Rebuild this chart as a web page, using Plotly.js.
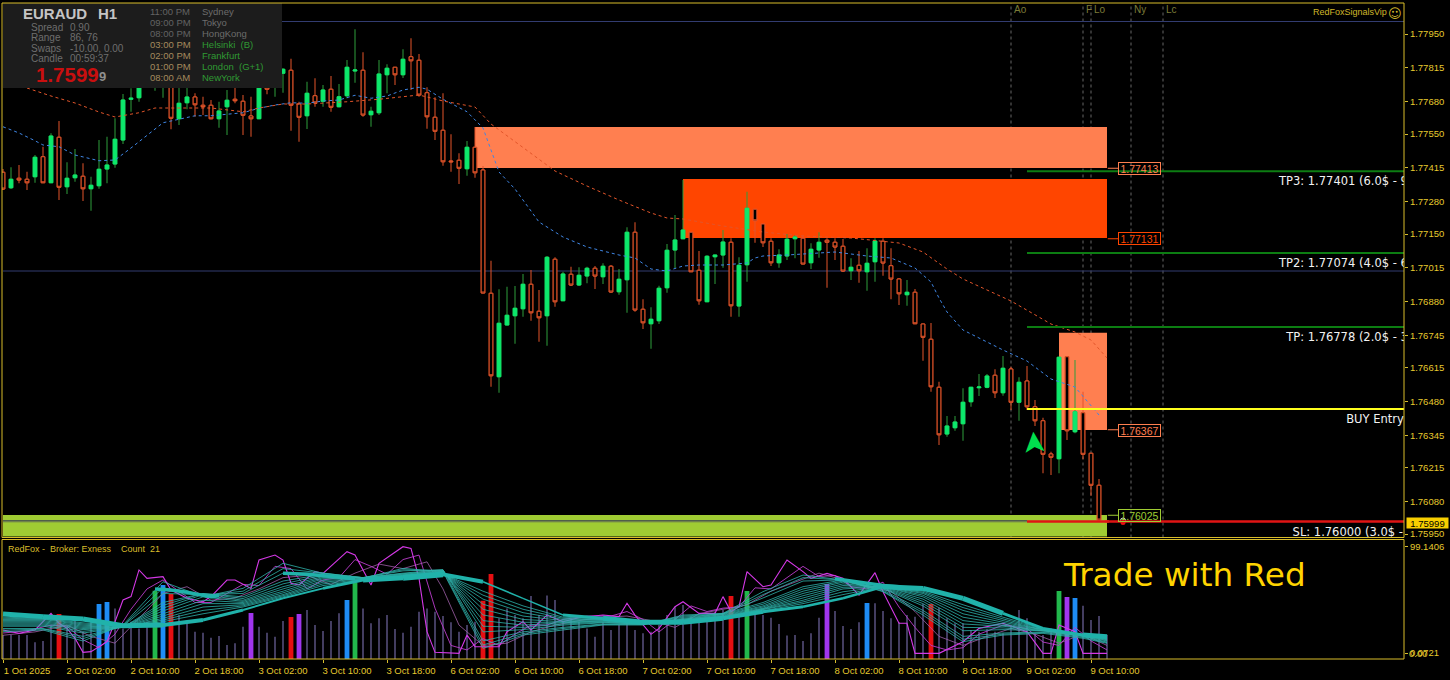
<!DOCTYPE html>
<html><head><meta charset="utf-8">
<script src="https://cdn.plot.ly/plotly-3.0.1.min.js"></script>
<style>html,body{margin:0;padding:0;background:#000}#c{width:1450px;height:680px}</style>
</head><body><div id="c"></div>
<script>
const candleOpen=[1.77397,1.77335,1.77373,1.77369,1.77379,1.77459,1.77355,1.77537,1.77339,1.77375,
1.77381,1.77331,1.77343,1.77410,1.77430,1.77526,1.77689,1.77695,1.77782,1.77750,
1.77750,1.77782,1.77611,1.77675,1.77698,1.77665,1.77665,1.77611,1.77659,1.77689,
1.77681,1.77622,1.77611,1.77750,1.77742,1.77793,1.77805,1.77670,1.77623,1.77703,
1.77681,1.77729,1.77659,1.77703,1.77802,1.77805,1.77627,1.77635,1.77787,1.77817,
1.77787,1.77859,1.77845,1.77715,1.77617,1.77565,1.77442,1.77445,1.77411,1.77497,
1.77406,1.76913,1.76579,1.76786,1.76823,1.76851,1.76949,1.76841,1.76823,1.77049,
1.76883,1.76989,1.76946,1.76982,1.77013,1.76979,1.77021,1.76919,1.76967,1.77157,
1.76849,1.76791,1.76803,1.76935,1.77086,1.77131,1.77157,1.77005,1.76879,1.77059,
1.77066,1.77117,1.76862,1.77027,1.77249,1.77190,1.77121,1.77035,1.77062,1.77131,
1.77133,1.77035,1.77086,1.77125,1.77117,1.77101,1.77003,1.77025,1.76999,1.77039,
1.77121,1.77023,1.76970,1.76907,1.76917,1.76790,1.76729,1.76537,1.76350,1.76375,
1.76391,1.76479,1.76535,1.76537,1.76585,1.76515,1.76610,1.76477,1.76562,1.76459,
1.76403,1.76270,1.76251,1.76659,1.76359,1.76435,1.76273,1.76145,1.76002];
const candleHigh=[1.77410,1.77417,1.77426,1.77399,1.77466,1.77499,1.77553,1.77602,1.77437,1.77490,
1.77433,1.77379,1.77526,1.77539,1.77613,1.77710,1.77733,1.77806,1.77814,1.77838,
1.77846,1.77814,1.77746,1.77734,1.77713,1.77699,1.77686,1.77679,1.77726,1.77734,
1.77706,1.77699,1.77806,1.77774,1.77822,1.77813,1.77851,1.77679,1.77759,1.77773,
1.77746,1.77782,1.77750,1.77846,1.77969,1.77877,1.77659,1.77846,1.77829,1.77817,
1.77889,1.77933,1.77870,1.77737,1.77697,1.77713,1.77549,1.77473,1.77522,1.77578,
1.77422,1.77043,1.76929,1.76939,1.76942,1.76990,1.77006,1.76926,1.77062,1.77057,
1.76999,1.77019,1.77017,1.77019,1.77022,1.77033,1.77026,1.77010,1.77177,1.77197,
1.76889,1.76857,1.76943,1.77110,1.77226,1.77366,1.77158,1.77082,1.77065,1.77066,
1.77166,1.77133,1.77057,1.77319,1.77250,1.77190,1.77133,1.77089,1.77150,1.77146,
1.77146,1.77113,1.77157,1.77133,1.77133,1.77130,1.77053,1.77082,1.77093,1.77133,
1.77133,1.77093,1.76973,1.76966,1.76930,1.76790,1.76794,1.76559,1.76422,1.76422,
1.76533,1.76537,1.76590,1.76590,1.76609,1.76662,1.76619,1.76577,1.76622,1.76486,
1.76415,1.76279,1.76659,1.76659,1.76646,1.76519,1.76274,1.76170,1.76002];
const candleLow=[1.77326,1.77330,1.77353,1.77326,1.77355,1.77355,1.77355,1.77286,1.77310,1.77359,
1.77282,1.77243,1.77331,1.77353,1.77415,1.77510,1.77639,1.77679,1.77738,1.77723,
1.77695,1.77569,1.77586,1.77649,1.77619,1.77626,1.77609,1.77575,1.77546,1.77673,
1.77546,1.77539,1.77610,1.77709,1.77699,1.77715,1.77563,1.77519,1.77570,1.77659,
1.77659,1.77639,1.77657,1.77693,1.77755,1.77619,1.77579,1.77626,1.77713,1.77746,
1.77774,1.77726,1.77699,1.77571,1.77526,1.77423,1.77399,1.77350,1.77383,1.77375,
1.76914,1.76539,1.76515,1.76786,1.76711,1.76819,1.76803,1.76719,1.76703,1.76859,
1.76883,1.76942,1.76942,1.76953,1.76930,1.76950,1.76915,1.76907,1.76835,1.76839,
1.76770,1.76691,1.76790,1.76915,1.77013,1.77131,1.76999,1.76867,1.76879,1.76950,
1.77015,1.76819,1.76819,1.76959,1.77115,1.77098,1.77022,1.77015,1.77046,1.77053,
1.77030,1.77010,1.77055,1.76935,1.77046,1.76998,1.76966,1.76955,1.76923,1.76959,
1.76983,1.76889,1.76866,1.76863,1.76790,1.76643,1.76519,1.76306,1.76339,1.76363,
1.76323,1.76459,1.76502,1.76533,1.76494,1.76503,1.76446,1.76403,1.76446,1.76382,
1.76193,1.76186,1.76193,1.76326,1.76353,1.76249,1.76103,1.76006,1.75999];
const candleClose=[1.77330,1.77369,1.77366,1.77355,1.77457,1.77355,1.77542,1.77337,1.77373,1.77386,
1.77331,1.77345,1.77409,1.77426,1.77529,1.77686,1.77693,1.77766,1.77742,1.77798,
1.77798,1.77613,1.77673,1.77698,1.77667,1.77659,1.77611,1.77642,1.77685,1.77683,
1.77625,1.77611,1.77774,1.77729,1.77782,1.77809,1.77665,1.77617,1.77713,1.77675,
1.77726,1.77657,1.77699,1.77817,1.77806,1.77626,1.77641,1.77790,1.77813,1.77787,
1.77849,1.77843,1.77706,1.77619,1.77561,1.77439,1.77439,1.77413,1.77497,1.77395,
1.76914,1.76583,1.76793,1.76825,1.76853,1.76949,1.76835,1.76815,1.77057,1.76879,
1.76990,1.76946,1.76985,1.77013,1.76982,1.77021,1.76918,1.76969,1.77157,1.76846,
1.76795,1.76809,1.76933,1.77085,1.77126,1.77166,1.76999,1.76883,1.77061,1.77066,
1.77118,1.76863,1.77025,1.77253,1.77203,1.77115,1.77035,1.77066,1.77129,1.77138,
1.77030,1.77089,1.77117,1.77117,1.77098,1.77002,1.77017,1.77003,1.77033,1.77122,
1.77034,1.76970,1.76911,1.76917,1.76791,1.76737,1.76539,1.76347,1.76382,1.76398,
1.76477,1.76537,1.76538,1.76582,1.76515,1.76613,1.76477,1.76557,1.76459,1.76403,
1.76269,1.76257,1.76657,1.76363,1.76439,1.76269,1.76145,1.76006,1.75999];

const emaBlueIdx=[0,2,4,5,7,9,12,14,16,18,20,22,24,26,28,30,32,34,36,38,40,42,44,46,48,50,52,53,55,58,60,62,64,66,67,70,73,77,79,81,83,85,87,90,93,94,95,98,102,104,108,111,114,116,117,118,120,125,128,131,134,137];
const emaBlue=[1.77579,1.77554,1.77523,1.77506,1.77499,1.77466,1.77443,1.77446,1.77494,1.77546,1.77595,1.77609,1.77623,1.77623,1.77630,1.77635,1.77653,1.77666,1.77675,1.77673,1.77682,1.77686,1.77705,1.77693,1.77702,1.77726,1.77737,1.77729,1.77689,1.77639,1.77574,1.77398,1.77330,1.77242,1.77198,1.77138,1.77098,1.77066,1.77054,1.77010,1.77002,1.77022,1.77026,1.77026,1.77034,1.77054,1.77062,1.77066,1.77074,1.77078,1.77062,1.77054,1.77014,1.76958,1.76894,1.76838,1.76766,1.76686,1.76642,1.76570,1.76538,1.76426];
const emaOrangeIdx=[3,6,9,12,14,17,19,23,26,30,32,35,38,43,47,52,55,59,61,69,73,77,81,83,85,90,95,100,106,112,115,118,120,126,131,134,136,138];
const emaOrange=[1.77734,1.77702,1.77674,1.77638,1.77618,1.77635,1.77654,1.77654,1.77654,1.77639,1.77654,1.77670,1.77670,1.77679,1.77689,1.77706,1.77682,1.77658,1.77590,1.77402,1.77342,1.77286,1.77234,1.77214,1.77210,1.77182,1.77158,1.77142,1.77134,1.77114,1.77078,1.77010,1.76970,1.76882,1.76790,1.76758,1.76726,1.76654];

const volume=[21.2,21.2,21.2,21.2,14.8,15.9,30.1,39.8,28.6,36,24.2,33,48.7,50.4,44.8,27.1,33,27.1,33,60.5,
65.5,57.5,38.9,31.6,24.2,23.3,18.9,20.4,12.4,13.9,28.6,40.7,28.6,23.3,19.8,33.6,37.2,39.8,43.4,30.1,
24.8,33.6,40.4,52.2,67.6,44.8,31.6,36,38.9,26.6,23.3,28.6,41.9,44.8,41.9,38.1,32.5,24.2,30.1,33,
51.6,75.2,36,44.8,38.9,36,55.8,38.9,56.1,52.2,33,36,33,27.1,19.8,32.5,25.7,30.1,31.6,25.7,
22.7,24.2,30.1,38.9,46.3,47.8,37.5,33,34.5,41.9,43.4,55.8,38.9,60.2,38.9,38.9,36.6,31,20.7,21.2,
15.9,22.7,36.6,66.4,42.5,29.2,26.6,32.5,49.6,49.3,42.5,36,32.5,38.9,37.5,48.7,48.7,45.4,36,31.6,
31.6,25.7,24.2,26.3,24.2,22.7,30.1,43.4,36,22.7,21.2,27.1,60.2,54.9,54,47.2,34.5,38.1,21.2];
const redBars=[7,21,36,60,61,91,116];
const blueBars=[12,13,20,43,108,134];
const greenBars=[19,44,93,132];
const purpleBars=[31,37,103,133];

const fanIdx=[0,5,10,15,20,25,30,35,40,45,50,55,60,65,70,75,80,85,90,95,100,105,110,115,120,125,130,135,138];
const fan1=[24.2,25.7,15.9,30.1,68.4,55.2,62.5,84.7,75.8,71.4,80.2,77.3,9.4,21.2,25.7,30.1,30.1,38.9,40.4,59.6,74.3,69.9,59.6,38.9,15.3,21.2,22.7,18.3,13.9];
const fan1b=[25.5,26.5,18,29.5,63,56,60,80,76,72,79,78,12.5,22.5,27,30.5,30.5,38,40,57,72,70,60,41,17.5,22,23.5,19,14.5];
const fan2=[27,27,20,29,58,57,58,76,76,72,78,79,16,24,28,31,31,37,40,54,69,70,61,43,20,23,24,20,15];
const fan3=[29,29,23,28,50,58,55,69,75,72,76,79,24,26,30,32,31,36,40,50,64,70,62,47,25,26,25,20,16];
const fan3b=[30,30,24.5,28,47.5,58,53.5,66.5,74,72,75.5,78.5,29,28,31,32.5,31,35.5,39.5,48.5,62,69,62.5,49,28,27.5,25,20.5,16.5];
const fan4=[31,31,26,28,45,57,52,64,73,72,75,78,34,30,32,33,31,35,39,47,60,68,63,51,31,29,25,21,17];
const fan4b=[32,32,27,28,42.5,55,51,62,72,71.5,74.5,77.5,39,32.5,32.5,33.5,31.5,34.5,38.5,46,58,66.5,63.5,53,34,30,25.5,21,17.5];
const fan5=[33,33,28,28,40,52,50,60,71,71,74,77,44,35,33,34,32,34,38,45,56,65,64,55,37,31,26,21,18];
const fan5b=[34,34,29,28,38,49,49,58.5,69.5,71,73.5,76.5,48.5,38,34,34.5,32,34,37.5,44.5,54,63.5,64,56.5,40,32.5,26,21,18.5];
const fan6=[35,35,30,28,36,46,48,57,68,71,73,76,53,41,35,35,32,34,37,44,52,62,64,58,43,34,26,21,19];
const fan6b=[36,35.5,31,28.5,34.5,43,47,56,66.5,70.5,72.5,75.8,56.5,44,36,35,32,33.5,36.8,43.5,50.5,59.5,64,59,45.5,35.5,26.5,21,19.2];
const fan7=[37,36,32,29,33,40,46,55,65,70,72.5,75.5,60,47,37,35.5,32,33,36.5,43,49,57,64,60,48,37,27,21,19.5];
const fanSlow=[39.8,37.5,35.4,29.5,30.1,34.5,43.4,53.7,62.5,69.9,72,74.9,68.4,53.7,38.9,36,32.5,32.5,36,41.9,46.3,53.7,64,62.5,53.7,40.4,27.1,21.2,19.8];
const fanSlowWidth=[5,5,5,5,4,3,2,2,3,5,6,4,1.5,1.5,3,5,5,5,4,3,2.5,2.5,5,5,5,3,3,5];
const bandAIdx=[19,21,23,26,27], bandA=[62,61,59,55,56];
const bandBIdx=[35,38,41,44], bandB=[76,75,73,71];
const bandCIdx=[104,107,110,112], bandC=[71,68,65,64];

const mag1Idx=[0,2,4,6,7,8,9,10,11,13,14,15,16,17,18,20,21,23,25,26,28,29,31,32,34,35,36,37,39,40,43,44,46,47,50,51,52,53,54,57,58,59,62,63,65,66,68,70,72,75,77,78,79,81,82,84,85,87,89,90,91,92,93,95,96,98,100,101,103,105,107,109,110,112,113,114,117,120,122,125,128,130,131,132,134,135,138];
const mag1=[25.7,22.7,25.7,40.4,31.6,27.1,18.3,5.9,6.5,15.3,33,52.2,55.2,78.8,71.4,72.9,61.1,53.7,50.7,55.2,69.9,69.9,62.5,87.6,92,87.6,67,65.5,77.3,75.8,95,92,65.5,84.7,99.4,97.9,71.4,24.2,5.9,5,21.2,10.9,10.9,24.2,33,25.7,38.9,33,36.6,38.9,37.5,49.3,38.9,21.8,27.1,46.3,50.7,40.4,40.4,55.2,41.9,46.3,77.3,64,65.5,87.6,77.3,71.4,75.8,71.4,56.6,76.4,59.6,31.6,31.6,5,5,15.3,27.1,31.6,24.2,5,5,30.1,24.2,5,5];
const mag2Idx=[0,3,6,8,10,12,14,16,18,20,22,24,26,28,30,32,34,36,38,40,42,44,46,48,50,52,54,56,58,60,62,64,66,68,70,73,76,78,80,82,84,86,88,90,92,94,96,98,100,102,104,106,108,110,112,114,116,118,120,122,125,128,130,132,134,136,138];
const mag2=[23,25,30,29,17,10,22,44,62,70,60,50,50,58,66,65,82,80,62,70,72,88,82,75,88,92,45,12,8,18,12,22,30,30,35,38,38,42,35,24,35,47,42,45,46,63,62,72,82,73,74,64,62,68,46,28,12,8,10,22,30,27,15,12,28,16,8];
const mag3Idx=[0,4,8,11,14,17,20,23,26,29,32,35,38,41,44,47,50,53,55,57,60,63,66,69,72,75,78,81,84,87,90,93,96,99,102,105,108,111,114,117,120,123,126,129,132,135,138];
const mag3=[21,24,30,20,14,36,58,64,52,54,62,72,74,66,76,84,80,86,62,30,12,14,24,30,34,37,38,34,28,40,44,48,60,68,76,70,64,60,42,20,12,20,27,22,14,22,12];

const xTickIdx=[0,8,16,24,32,40,48,56,64,72,80,88,96,104,112,120,128,136];
const xTickLabels=['1 Oct 2025','2 Oct 02:00','2 Oct 10:00','2 Oct 18:00','3 Oct 02:00','3 Oct 10:00','3 Oct 18:00','6 Oct 02:00','6 Oct 10:00','6 Oct 18:00','7 Oct 02:00','7 Oct 10:00','7 Oct 18:00','8 Oct 02:00','8 Oct 10:00','8 Oct 18:00','9 Oct 02:00','9 Oct 10:00'];
const yTicks=[1.7795,1.77815,1.7768,1.7755,1.77415,1.7728,1.7715,1.77015,1.7688,1.76745,1.76615,1.7648,1.76345,1.76215,1.7608,1.7595];
const yTickLabels=['1.77950','1.77815','1.77680','1.77550','1.77415','1.77280','1.77150','1.77015','1.76880','1.76745','1.76615','1.76480','1.76345','1.76215','1.76080','1.75950'];

const sessionIdx=[126,135,136,141,145];
const sessionNames=['Ao','F','Lo','Ny','Lc'];
const tpPrices=[1.77401,1.77074,1.76778];
const tpLabels=['TP3: 1.77401 (6.0$ - 9','TP2: 1.77074 (4.0$ - 6','TP: 1.76778 (2.0$ - 3'];
const buyPrice=1.7645, slPrice=1.76;
const zoneCoral=[59,138,1.77414,1.77578], zoneRed=[85,138,1.77134,1.7737], zoneCoral2=[132,138,1.76366,1.76755], zoneGreen=[0,138,1.7594,1.76026];
const navyLevels=[1.78,1.77002];
const buySignal=[128.7,1.76314];

const GOLD='#e6c92e',FRAME='#d9bd2b',ORANGE='#e4552a',GREEN='#0ce86c',GREENW='#2f9f3c';
const X0=2,X1=1404,Y1=659,H=656;
const px=x=>(x-X0)/(X1-X0), py=y=>(Y1-y)/H;
const all=candleOpen.map((_,i)=>i);
const bodyHi=candleOpen.map((o,i)=>Math.max(o,candleClose[i]));
const bodyLo=candleOpen.map((o,i)=>Math.min(o,candleClose[i]));

const traces=[];
traces.push({type:'candlestick',x:all,open:candleOpen,high:candleHigh,low:candleLow,close:candleClose,xaxis:'x',yaxis:'y',hoverinfo:'skip',
  increasing:{line:{color:GREENW,width:1},fillcolor:GREEN},decreasing:{line:{color:ORANGE,width:1},fillcolor:'#000'}});
traces.push({type:'candlestick',x:all,open:candleOpen,high:bodyHi,low:bodyLo,close:candleClose,xaxis:'x',yaxis:'y',hoverinfo:'skip',
  increasing:{line:{color:GREEN,width:1},fillcolor:GREEN},decreasing:{line:{color:ORANGE,width:1},fillcolor:'#000'}});
traces.push({type:'scatter',mode:'lines',x:emaBlueIdx,y:emaBlue,line:{color:'#3f86e4',width:1,dash:'3px,3px'},xaxis:'x',yaxis:'y',hoverinfo:'skip'});
traces.push({type:'scatter',mode:'lines',x:emaOrangeIdx,y:emaOrange,line:{color:'#e2552a',width:1,dash:'3px,3px'},xaxis:'x',yaxis:'y',hoverinfo:'skip'});
// clipped chart labels
traces.push({type:'scatter',mode:'text',x:[159.5,159.5,160.4,167.9,161.2],y:[tpPrices[0]-0.00044,tpPrices[1]-0.00044,tpPrices[2]-0.00044,buyPrice-0.00044,slPrice-0.00048],
  text:[...tpLabels,'BUY Entry','SL: 1.76000 (3.0$ -'],textposition:'middle right',textfont:{family:'DejaVu Sans',size:11.5,color:'#f2f2f2'},xaxis:'x',yaxis:'y',cliponaxis:true,hoverinfo:'skip'});
traces.push({type:'scatter',mode:'markers',x:[140],y:[1.76004],marker:{symbol:'circle-open',size:5,color:'#dddddd',line:{width:1}},xaxis:'x',yaxis:'y',hoverinfo:'skip'});
traces.push({type:'scatter',mode:'markers',x:[140],y:[1.75996],marker:{symbol:'circle',size:5,color:'#e81010'},xaxis:'x',yaxis:'y',hoverinfo:'skip'});

// volume histogram
const special=[...redBars,...blueBars,...greenBars,...purpleBars];
const thin=all.filter(i=>!special.includes(i));
traces.push({type:'bar',x:thin,y:thin.map(i=>volume[i]),width:0.16,marker:{color:'#6a6098',line:{width:0}},xaxis:'x',yaxis:'y2',hoverinfo:'skip'});
[[redBars,'#e60f12'],[blueBars,'#1e8cf5'],[greenBars,'#22b84c'],[purpleBars,'#a035ee']].forEach(([ids,c])=>{
  traces.push({type:'bar',x:ids,y:ids.map(i=>volume[i]),width:0.6,marker:{color:c,line:{width:0}},xaxis:'x',yaxis:'y2',hoverinfo:'skip'});
});
const lineS=(x,y,c,w)=>traces.push({type:'scatter',mode:'lines',x,y,line:{color:c,width:w},xaxis:'x',yaxis:'y2',hoverinfo:'skip'});
lineS(mag3Idx,mag3,'#a060a8',0.8);
lineS(mag2Idx,mag2,'#bb3ccc',0.9);
lineS(mag1Idx,mag1,'#d438e6',1.1);
[fan1,fan1b,fan2,fan3,fan3b,fan4,fan4b,fan5,fan5b,fan6,fan6b,fan7].forEach(f=>lineS(fanIdx,f,'#2fb3ab',0.8));
fanSlowWidth.forEach((w,k)=>lineS(fanIdx.slice(k,k+2),fanSlow.slice(k,k+2),'#20b2aa',w));
lineS(bandAIdx,bandA,'#20b2aa',3.5);
lineS(bandBIdx,bandB,'#20b2aa',3.5);
lineS(bandCIdx,bandC,'#20b2aa',3.5);

const rect=(z,c)=>({type:'rect',layer:'below',xref:'x',yref:'y',x0:z[0],x1:z[1],y0:z[2],y1:z[3],fillcolor:c,line:{width:0}});
const hl=(y,x0,x1,c,w,layer)=>({type:'line',layer:layer||'above',xref:'x',yref:'y',x0,x1,y0:y,y1:y,line:{color:c,width:w}});
const conn=(y,c)=>({type:'line',layer:'above',xref:'x',yref:'y',x0:138.1,x1:139.4,y0:y,y1:y,line:{color:c,width:1}});
const shapes=[
 rect(zoneGreen,'#9fcc33'),rect(zoneCoral,'#ff7f50'),rect(zoneRed,'#ff4500'),rect(zoneCoral2,'#ff7f50'),
 hl(navyLevels[0],0,175.2,'#323c70',1,'below'),hl(navyLevels[1],0,175.2,'#323c70',1,'below'),
 hl(slPrice+0.00004,0,128,'#4f5f4a',1,'below'),hl(slPrice-0.00001,0,128,'#5f6a55',1,'below'),
 ...sessionIdx.map(i=>({type:'line',layer:'below',xref:'x',yref:'y domain',x0:i,x1:i,y0:0,y1:1,line:{color:'#666',width:1,dash:'3px,3px'}})),
 ...tpPrices.map(p=>hl(p,128,175.2,'#0c7d12',2)),
 hl(buyPrice,128,175.2,'#ffff1e',2),
 hl(slPrice,128,175.2,'#e01414',2.5),
 conn(1.77413,'#ff7f50'),conn(1.77131,'#ff4500'),conn(1.76367,'#ff7f50'),conn(1.76025,'#9fcc33'),
 {type:'rect',layer:'above',xref:'paper',yref:'paper',x0:px(3),x1:px(282),y0:py(3),y1:py(88),fillcolor:'#1c1c1c',line:{width:0}},
 {type:'rect',layer:'above',xref:'paper',yref:'paper',x0:0,x1:1,y0:py(537.5),y1:1,fillcolor:'rgba(0,0,0,0)',line:{color:FRAME,width:1}},
 {type:'rect',layer:'above',xref:'paper',yref:'paper',x0:0,x1:1,y0:0,y1:py(539.5),fillcolor:'rgba(0,0,0,0)',line:{color:FRAME,width:1}},
];

const A=(text,x,y,size,color,extra)=>Object.assign({text,xref:'paper',yref:'paper',x:px(x),y:py(y),xanchor:'left',yanchor:'middle',align:'left',showarrow:false,borderpad:0,
  font:{family:'Liberation Sans',size,color}},extra||{});
const sessTimes=['11:00 PM','09:00 PM','08:00 PM','03:00 PM','02:00 PM','01:00 PM','08:00 AM'];
const sessCities=['Sydney','Tokyo','HongKong','Helsinki\u00a0\u00a0(B)','Frankfurt','London\u00a0\u00a0(G+1)','NewYork'];
const sessY=[11.5,22.5,33.5,44.5,55.5,66.5,77.5];
const infoKeys=['Spread','Range','Swaps','Candle'], infoVals=['0.90','86, 76','-10.00, 0.00','00:59:37'], infoY=[28,38,48,58];
const boxLabel=(t,y,c)=>A(t,1118,y,10.5,c,{bordercolor:c,borderwidth:1,borderpad:0,width:41,height:11,align:'center'});
const annotations=[
 A('<b>EURAUD</b>',22,14,15,'#c4c4c4'),A('<b>H1</b>',97,14,15,'#c4c4c4'),
 ...infoKeys.map((t,i)=>A(t,30,infoY[i],10,'#6e6e6e')),
 ...infoVals.map((t,i)=>A(t,69,infoY[i],10,'#6e6e6e')),
 A('<b>1.7599</b>',35,74,20.5,'#c90f0f'),A('<b>9</b>',98,76,13,'#8f8f8f'),
 ...sessTimes.map((t,i)=>A(t,149,sessY[i],9.5,i<3?'#636363':'#a58a5c')),
 ...sessCities.map((t,i)=>A(t,201,sessY[i],9.5,i<3?'#6c6c6c':'#2f9a33')),
 ...sessionNames.map((t,i)=>A(t,3+8*sessionIdx[i]+2,10,10,'#7b7b38')),
 A('RedFoxSignalsVip',1312,12,9,'#d0b62a'),
 A('\u263A',1387,13,13,'#d0b62a',{font:{family:'DejaVu Sans',size:13,color:'#d0b62a'}}),
 boxLabel('1.77413',168.5,'#ff7f50'),boxLabel('1.77131',238,'#ff4500'),boxLabel('1.76367',430,'#ff7f50'),boxLabel('1.76025',515.5,'#9fcc33'),
 A('1.75999',1406,522.5,9.5,'#000',{bgcolor:'#f8cf00',width:41,height:10,align:'center'}),
 A('RedFox -\u00a0\u00a0Broker: Exness\u00a0\u00a0\u00a0\u00a0Count\u00a0\u00a021',7,549,9,'#d9bd2b'),
 A('Trade with Red',1062,575,32.7,'#ffd400',{font:{family:'DejaVu Sans',size:32.7,color:'#ffd400'}}),
 A('0.00',1408,653,9.5,GOLD),
 {text:'\u27A4',xref:'x',yref:'y',x:buySignal[0],y:buySignal[1],xanchor:'center',yanchor:'middle',showarrow:false,textangle:-95,borderpad:0,font:{family:'DejaVu Sans',size:30,color:'#00e04e'}},
];

const layout={
 width:1450,height:680,paper_bgcolor:'#000',plot_bgcolor:'#000',showlegend:false,dragmode:false,
 margin:{l:X0,r:1450-X1,t:3,b:680-Y1,pad:0},barmode:'overlay',boxmode:'overlay',boxgap:0.35,
 xaxis:{domain:[0,1],range:[-0.125,175.125],anchor:'y2',rangeslider:{visible:false},showgrid:false,zeroline:false,showline:false,
  tickmode:'array',tickvals:xTickIdx,ticktext:xTickLabels,ticks:'outside',ticklen:3,tickcolor:FRAME,tickfont:{family:'Liberation Sans',size:9.5,color:GOLD},ticklabelshift:24,fixedrange:true,tickangle:0},
 yaxis:{domain:[py(537.5),1],range:[1.75936,1.78074],side:'right',anchor:'x',showgrid:false,zeroline:false,showline:false,
  tickmode:'array',tickvals:yTicks,ticktext:yTickLabels,ticks:'outside',ticklen:3,tickcolor:FRAME,tickfont:{family:'Liberation Sans',size:9.5,color:GOLD},fixedrange:true},
 yaxis2:{domain:[0,py(539.5)],range:[0,105.76],side:'right',anchor:'x',showgrid:false,zeroline:false,showline:false,
  tickmode:'array',tickvals:[99.14,5.3],ticktext:['99.1406','0.0721'],ticks:'outside',ticklen:3,tickcolor:FRAME,tickfont:{family:'Liberation Sans',size:9.5,color:GOLD},fixedrange:true},
 shapes,annotations
};
Plotly.newPlot('c',traces,layout,{displayModeBar:false,staticPlot:true});
</script></body></html>
